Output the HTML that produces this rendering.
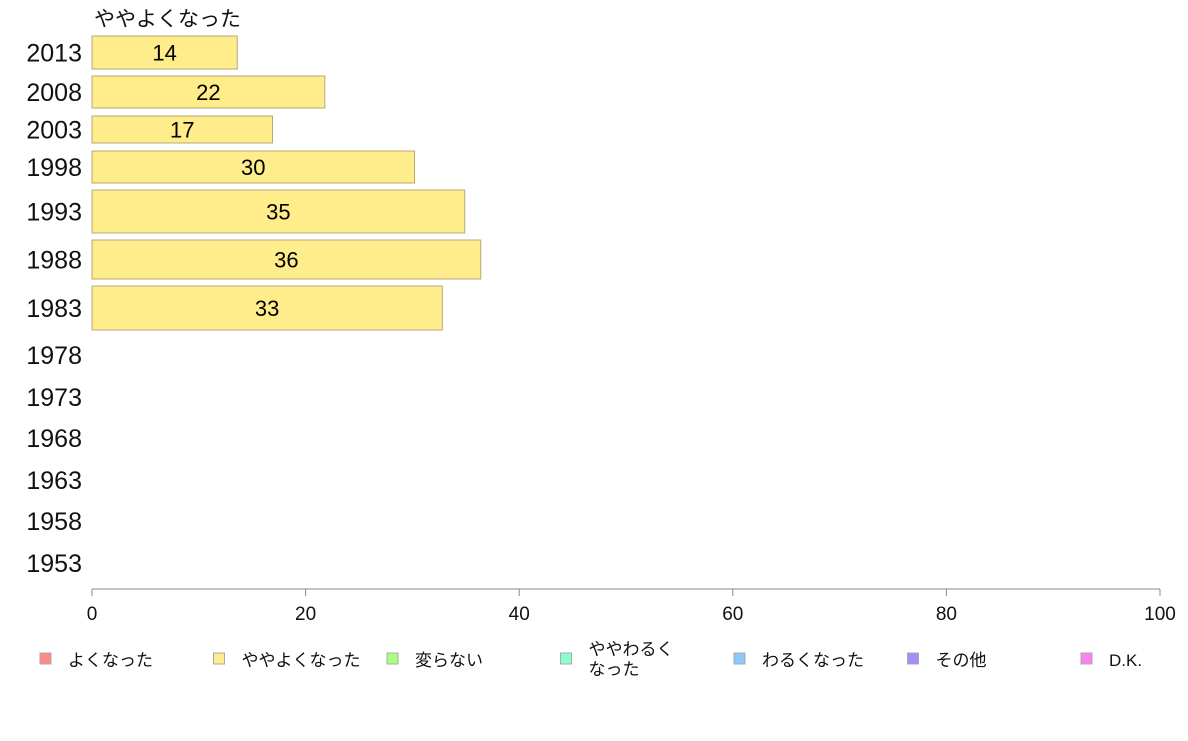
<!DOCTYPE html>
<html><head><meta charset="utf-8"><style>
body{margin:0;background:#fff;}
text{font-family:"Liberation Sans","Noto Sans CJK JP",sans-serif;}
</style></head><body>
<svg id="chart" width="1188" height="736" xmlns="http://www.w3.org/2000/svg">
<text x="94" y="26" font-size="21" fill="#111">ややよくなった</text>
<g id="bars"></g>
<g id="axis"></g>
<g id="legend"></g>
</svg>
<script>
const years=["2013","2008","2003","1998","1993","1988","1983","1978","1973","1968","1963","1958","1953"];
const values=[13.6,21.8,16.9,30.2,34.9,36.4,32.8,null,null,null,null,null,null];
const labels=["14","22","17","30","35","36","33","","","","","",""];
const xTicks=[0,20,40,60,80,100];
const legendNames=["よくなった","ややよくなった","変らない","ややわるく\nなった","わるくなった","その他","D.K."];
const legendColors=["#ff8a8a","#ffec8a","#a8ff80","#8affcc","#8ac8ff","#a88aff","#ff80f0"];
// layout (row bands, px)
const bandTop=[36,76,116,151,190,240,286,338,380,421,463,504,546];
const bandH=[33,32,27,32,43,39,44,34,34,34,34,34,34];
const x0=92,x1=1160;
const xs=v=>x0+(x1-x0)*v/100;
const NS="http://www.w3.org/2000/svg";
function mk(t,a,p){const e=document.createElementNS(NS,t);for(const k in a)e.setAttribute(k,a[k]);p.appendChild(e);return e;}
const gb=document.getElementById('bars');
years.forEach((y,i)=>{
 const cy=bandTop[i]+bandH[i]/2;
 const t=mk('text',{x:82,y:cy+9,'font-size':25,'text-anchor':'end',fill:'#111'},gb);
 t.textContent=y;
 
 
 if(values[i]!=null){
  const r=mk('rect',{x:x0,y:bandTop[i],width:xs(values[i])-x0,height:bandH[i],fill:'#ffec8a',stroke:'#b8a878','stroke-width':1},gb);
  
  
  const l=mk('text',{x:(x0+xs(values[i]))/2,y:cy+8,'font-size':22,'text-anchor':'middle',fill:'#000'},gb);
  l.textContent=labels[i];
  
  
 }
});
const ga=document.getElementById('axis');
const ax=mk('line',{x1:x0,x2:x1,y1:589,y2:589,stroke:'#888'},ga);


xTicks.forEach(v=>{
 mk('line',{x1:xs(v),x2:xs(v),y1:589,y2:596,stroke:'#888'},ga);
 const t=mk('text',{x:xs(v),y:620,'font-size':19,'text-anchor':'middle',fill:'#111'},ga);
 t.textContent=v;
 
 
});
const gl=document.getElementById('legend');
legendNames.forEach((n,i)=>{
 const lx=40+i*173.5;
 const r=mk('rect',{x:lx,y:653,width:11,height:11,fill:legendColors[i],stroke:'#aaa'},gl);
 
 
 const lines=n.split('\n');
 lines.forEach((s,j)=>{
  const t=mk('text',{x:lx+28,y:(lines.length>1?655:666)+j*20,'font-size':17,fill:'#111'},gl);
  t.textContent=s;
  
  
 });
});
</script>
</body></html>
